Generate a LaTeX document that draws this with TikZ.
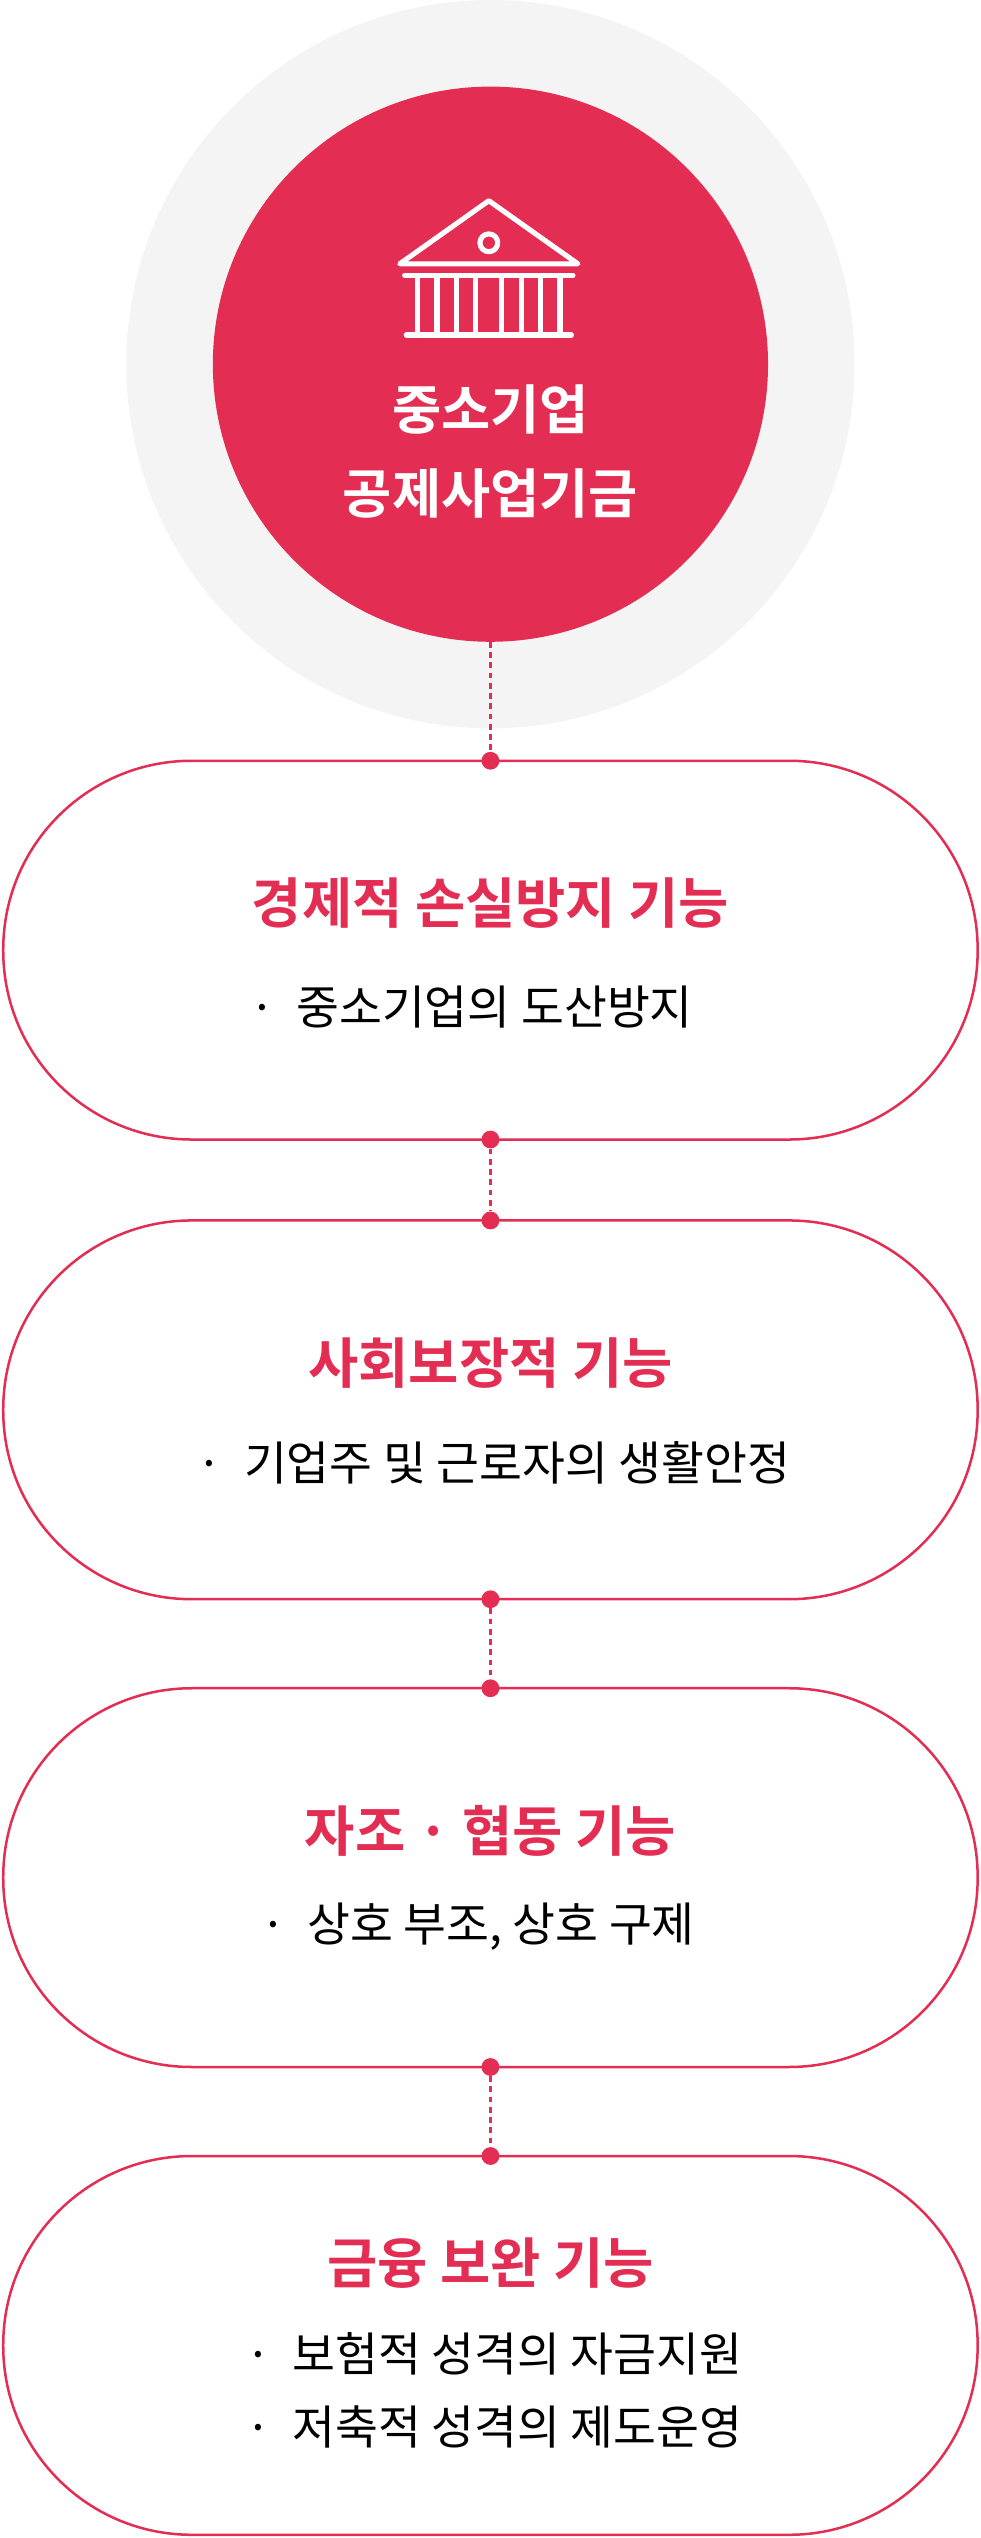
\documentclass[tikz,border=0pt]{standalone}
\usepackage{fontspec}
\newfontfamily\kr{Noto Sans CJK KR}
\newfontfamily\krb{Noto Sans CJK KR Bold}
\definecolor{brand}{HTML}{E32D52}
\definecolor{halo}{HTML}{F5F4F4}
\begin{document}
\begin{tikzpicture}[x=0.05cm,y=-0.05cm,
  pill/.style={draw=brand,line width=2.2pt,fill=white,rounded corners=116.5*0.05cm},
  dot/.style={circle,fill=brand,inner sep=0pt,minimum size=0.55cm},
  conn/.style={brand,dash pattern=on 5pt off 4pt,line width=2pt},
  ttl/.style={text=brand,font=\krb\fontsize{48}{56}\selectfont},
  body/.style={font=\kr\fontsize{41}{64}\selectfont,align=left}]
\useasboundingbox (0,0) rectangle (606,1568);
\fill[halo] (303,225) circle (225);
\node[circle,fill=brand,minimum size=343*0.05cm,inner sep=0pt] (hub) at (303,225) {};
% icon
\begin{scope}[white,line width=4.5pt,line cap=round,line join=round]
\draw (247,163) -- (302,124) -- (357,163) -- cycle;
\draw (302,150) circle (5.5);
\draw (250,170) -- (354,170);
\draw (251,207) -- (353,207);
\foreach \x in {258,270,282,294,310,322,334,346} \draw (\x,172) -- (\x,205);
\end{scope}
\node[text=white,font=\krb\fontsize{47}{74}\selectfont,align=center] (hubt) at (303,279) {중소기업\\공제사업기금};
% pills
\foreach \n/\t in {1/470,2/754,3/1043,4/1332}{
  \draw[pill] (2,\t) rectangle (604,\t+234);
  \node[dot] (top\n) at (303,\t) {};
}
\foreach \n/\t in {1/470,2/754,3/1043}{
  \node[dot] (bot\n) at (303,\t+234) {};
}
\draw[conn] (hub.south) -- (top1);
\draw[conn] (bot1) -- (top2);
\draw[conn] (bot2) -- (top3);
\draw[conn] (bot3) -- (top4);
\node[ttl] (t1) at (303,558) {경제적 손실방지 기능};
\node[body] (b1) at (291,622) {·\ \ 중소기업의 도산방지};
\node[ttl] (t2) at (303,842) {사회보장적 기능};
\node[body] (b2) at (305,904) {·\ \ 기업주 및 근로자의 생활안정};
\node[ttl] (t3) at (303,1131) {자조 · 협동 기능};
\node[body] (b3) at (295,1190) {·\ \ 상호 부조, 상호 구제};
\node[ttl] (t4) at (303,1398) {금융 보완 기능};
\node[body] (b4) at (305,1477) {·\ \ 보험적 성격의 자금지원\\·\ \ 저축적 성격의 제도운영};
\end{tikzpicture}
\end{document}
